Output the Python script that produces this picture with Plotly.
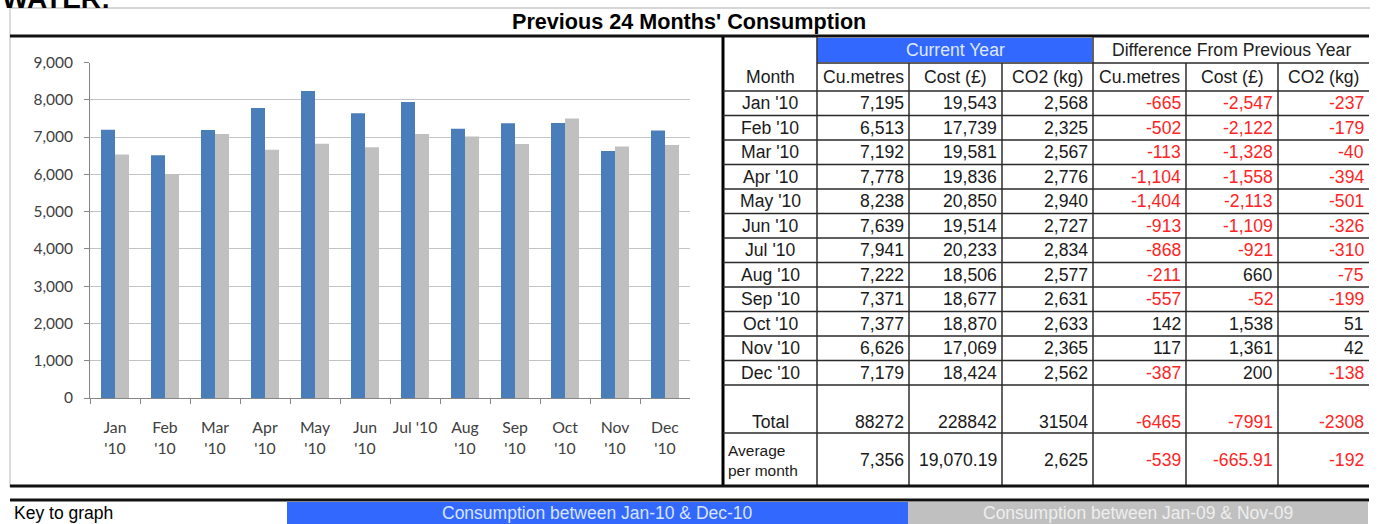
import plotly.graph_objects as go

# ---------------- data ----------------
tick_labels = ["Jan<br>'10", "Feb<br>'10", "Mar<br>'10", "Apr<br>'10", "May<br>'10", "Jun<br>'10",
               "Jul '10", "Aug<br>'10", "Sep<br>'10", "Oct<br>'10", "Nov<br>'10", "Dec<br>'10"]
row_labels = ["Jan '10", "Feb '10", "Mar '10", "Apr '10", "May '10", "Jun '10",
              "Jul '10", "Aug '10", "Sep '10", "Oct '10", "Nov '10", "Dec '10"]
cur_cum = [7195, 6513, 7192, 7778, 8238, 7639, 7941, 7222, 7371, 7377, 6626, 7179]
prev_cum = [6530, 6000, 7080, 6660, 6820, 6725, 7080, 7015, 6815, 7500, 6750, 6785]
cur_cost = [19543, 17739, 19581, 19836, 20850, 19514, 20233, 18506, 18677, 18870, 17069, 18424]
cur_co2 = [2568, 2325, 2567, 2776, 2940, 2727, 2834, 2577, 2631, 2633, 2365, 2562]
diff_cum = [-665, -502, -113, -1104, -1404, -913, -868, -211, -557, 142, 117, -387]
diff_cost = [-2547, -2122, -1328, -1558, -2113, -1109, -921, 660, -52, 1538, 1361, 200]
diff_co2 = [-237, -179, -40, -394, -501, -326, -310, -75, -199, 51, 42, -138]
totals = ["88272", "228842", "31504", "-6465", "-7991", "-2308"]
averages = ["7,356", "19,070.19", "2,625", "-539", "-665.91", "-192"]
sub_headers = ["Cu.metres", "Cost (£)", "CO2 (kg)", "Cu.metres", "Cost (£)", "CO2 (kg)"]

# ---------------- layout constants ----------------
W, H = 1379, 524
def px(x): return x / W
def py(y): return 1 - y / H

BLUE_BAR = "#4a7ebb"
GREY_BAR = "#c0c0c0"
HDR_BLUE = "#3368ff"
RED = "#ff2424"
TXT = "#1a1a1a"
LINE = "#2a2a2a"
TFONT = "Liberation Sans, Arial, sans-serif"
CFONT = "Lato, sans-serif"
TS = 17.6

col_edges = [723, 817, 909, 1002, 1093, 1186, 1278, 1369]
hdr_top, hdr_mid, hdr_bot = 37, 63, 91
row_h = 24.5
data_edges = [hdr_bot + i * row_h for i in range(13)]
total_bot = 433
avg_bot = 486

fig = go.Figure()
fig.add_trace(go.Bar(x=tick_labels, y=cur_cum, marker=dict(color=BLUE_BAR, line=dict(width=0)),
                     name="Consumption between Jan-10 & Dec-10", showlegend=False))
fig.add_trace(go.Bar(x=tick_labels, y=prev_cum, marker=dict(color=GREY_BAR, line=dict(width=0)),
                     name="Consumption between Jan-09 & Nov-09", showlegend=False))

shapes = []
ann = []

def hline(y, x0, x1, color=LINE, w=1.5):
    shapes.append(dict(type="line", xref="paper", yref="paper", x0=px(x0), x1=px(x1),
                       y0=py(y), y1=py(y), line=dict(color=color, width=w)))

def vline(x, y0, y1, color=LINE, w=1.5):
    shapes.append(dict(type="line", xref="paper", yref="paper", x0=px(x), x1=px(x),
                       y0=py(y0), y1=py(y1), line=dict(color=color, width=w)))

def rect(x0, y0, x1, y1, fill):
    shapes.append(dict(type="rect", xref="paper", yref="paper", x0=px(x0), x1=px(x1),
                       y0=py(y1), y1=py(y0), fillcolor=fill, line=dict(width=0), layer="below"))

def text(t, x, y, size=TS, color=TXT, xanchor="center", yanchor="middle", bold=False, family=TFONT, align="center"):
    ann.append(dict(text=f"<b>{t}</b>" if bold else t, x=px(x), y=py(y), xref="paper", yref="paper",
                    showarrow=False, xanchor=xanchor, yanchor=yanchor, align=align,
                    font=dict(size=size, color=color, family=family)))

# heading area
text("WATER:", 0, 16, size=28, color="#000", xanchor="left", yanchor="bottom", bold=True)
hline(8, 10, 1370, color="#c8c8c8", w=1.5)
vline(10, 8, 487, color="#d0d0d0", w=1.5)
text("Previous 24 Months' Consumption", 689, 21, size=21.6, color="#000", bold=True)
hline(36, 10, 1369, color="#111", w=3)

# table header
rect(col_edges[1], hdr_top + 1, col_edges[4] - 1, hdr_mid - 1, HDR_BLUE)
text("Current Year", (col_edges[1] + col_edges[4]) / 2, 50, color="#dfe8ff")
text("Difference From Previous Year", (col_edges[4] + col_edges[7]) / 2, 50, color="#222")
text("Month", (col_edges[0] + col_edges[1]) / 2, 77)
for i, h in enumerate(sub_headers):
    text(h, (col_edges[i + 1] + col_edges[i + 2]) / 2, 77)

# table body
cols = [cur_cum, cur_cost, cur_co2, diff_cum, diff_cost, diff_co2]
for r in range(12):
    yc = (data_edges[r] + data_edges[r + 1]) / 2
    text(row_labels[r], (col_edges[0] + col_edges[1]) / 2, yc)
    for c, series in enumerate(cols):
        v = series[r]
        text(f"{v:,}", col_edges[c + 2] - 3, yc, color=RED if v < 0 else TXT, xanchor="right")

text("Total", (col_edges[0] + col_edges[1]) / 2, 422)
for c, t in enumerate(totals):
    text(t, col_edges[c + 2] - 3, 422, color=RED if t.startswith("-") else TXT, xanchor="right")
text("Average<br>per month", col_edges[0] + 3, 460, size=15.5, xanchor="left", align="left")
for c, t in enumerate(averages):
    text(t, col_edges[c + 2] - 3, 460, color=RED if t.startswith("-") else TXT, xanchor="right")

# table lines
vline(col_edges[0], hdr_top, avg_bot, color="#000", w=3)
for x in col_edges[1:7]:
    top = hdr_top if x in (col_edges[1], col_edges[4]) else hdr_mid
    vline(x, top, avg_bot, color="#3a3a3a", w=1.6)
hline(hdr_mid, col_edges[1], col_edges[7])
for y in data_edges:
    hline(y, col_edges[0], col_edges[7])
hline(total_bot, col_edges[0], col_edges[7])

# bottom lines and key
hline(486, 10, 1369, color="#111", w=3)
hline(500, 10, 1369, color="#111", w=3)
text("Key to graph", 12, 513, size=17.5, color="#000", xanchor="left")
rect(287, 502, 908, 530, HDR_BLUE)
rect(908, 502, 1368, 530, "#c0c0c0")
text("Consumption between Jan-10 & Dec-10", (287 + 908) / 2, 513, size=17.5, color="#d8e4ff")
text("Consumption between Jan-09 & Nov-09", (908 + 1368) / 2, 513, size=17.5, color="#eeeeee")

fig.update_layout(
    width=W, height=H, margin=dict(l=0, r=0, t=0, b=0, autoexpand=False),
    paper_bgcolor="white", plot_bgcolor="white",
    barmode="group", bargap=0.44, bargroupgap=0,
    shapes=shapes, annotations=ann, showlegend=False,
    font=dict(family=CFONT, size=15.5, color="#404040"),
    xaxis=dict(domain=[px(90), px(690)], type="category", showline=True, linecolor="#868686",
               linewidth=1, ticks="outside", tickson="boundaries", ticklen=5, tickcolor="#868686",
               tickangle=0, showgrid=False, ticklabelstandoff=15,
               tickfont=dict(family=CFONT, size=15.8, color="#404040")),
    yaxis=dict(domain=[py(398), py(62.5)], range=[0, 9000], dtick=1000, tickformat=",",
               showline=True, linecolor="#868686", ticks="outside", ticklen=5, tickcolor="#868686",
               showgrid=True, gridcolor="#c4c4c4", gridwidth=1.3, zeroline=False,
               ticklabelstandoff=8, tickfont=dict(family=CFONT, size=15.5, color="#404040")),
)

fig.write_html("out.html", config={"displayModeBar": False},
               post_script="document.body.style.margin='0px';")
